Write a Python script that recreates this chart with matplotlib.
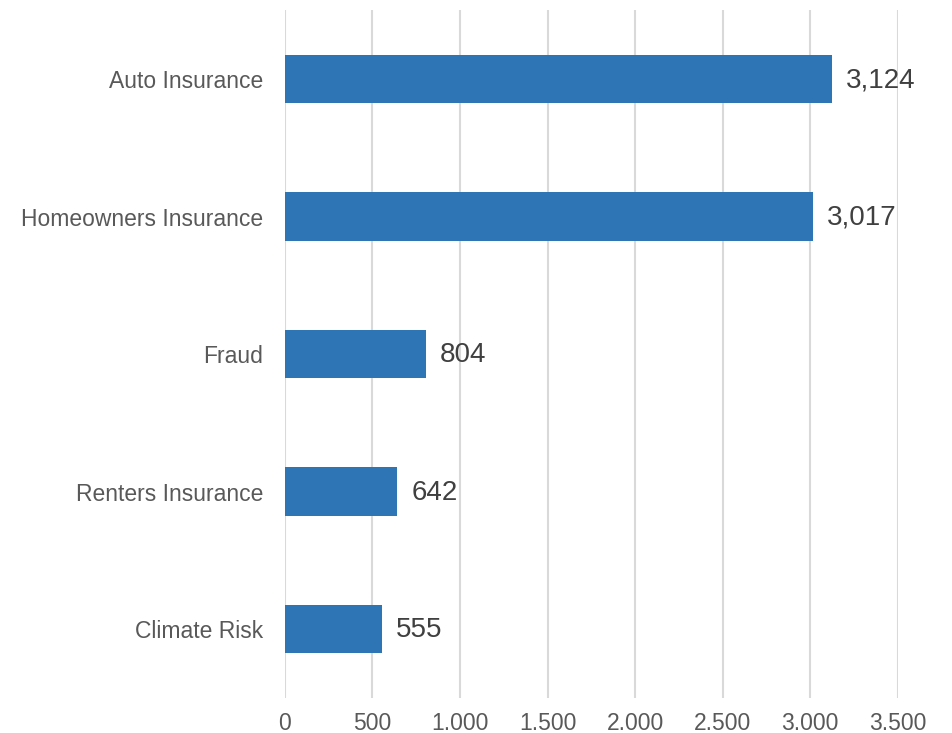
import matplotlib.pyplot as plt
from matplotlib.ticker import FuncFormatter

categories = ["Auto Insurance", "Homeowners Insurance", "Fraud", "Renters Insurance", "Climate Risk"]
values = [3124, 3017, 804, 642, 555]
x_ticks = [0, 500, 1000, 1500, 2000, 2500, 3000, 3500]

plt.rcParams["font.family"] = ["Liberation Sans", "DejaVu Sans"]

fig = plt.figure(figsize=(9.53, 7.33), dpi=100)
ax = fig.add_axes([0.299, 0.048, 0.643, 0.938])

ypos = list(range(len(categories)))
ax.barh(ypos, values, height=0.35, color="#2E75B6", zorder=3)
ax.set_ylim(len(categories) - 0.5, -0.5)
ax.set_xlim(0, 3500)

for y, v in zip(ypos, values):
    ax.text(v + 80, y + 0.01, f"{v:,}", va="center", ha="left", fontsize=20, color="#404040")

ax.set_yticks(ypos)
ax.set_yticklabels(categories, fontsize=16.5, color="#595959")
ax.set_xticks(x_ticks)
ax.xaxis.set_major_formatter(FuncFormatter(lambda v, p: f"{int(v):,}".replace(",", ".")))
ax.tick_params(axis="x", labelsize=16.5, colors="#595959", length=0, pad=10)
ax.tick_params(axis="y", length=0, pad=15.5)

ax.grid(True, axis="x", color="#D9D9D9", linewidth=1.5, zorder=0)
for s in ax.spines.values():
    s.set_visible(False)

fig.savefig("out.png", dpi=100)
